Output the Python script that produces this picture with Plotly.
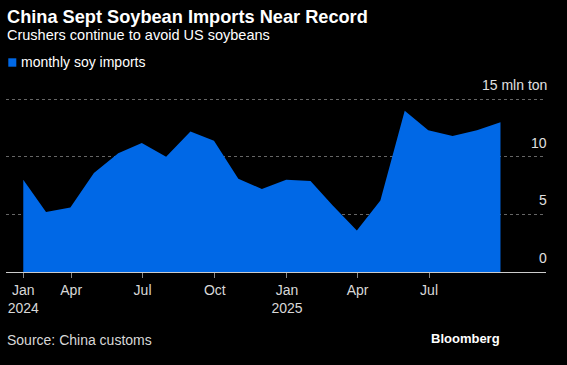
import plotly.graph_objects as go

# Monthly soybean imports (mln ton), dated at month end
months = ["2024-01-31", "2024-02-29", "2024-03-31", "2024-04-30", "2024-05-31", "2024-06-30",
          "2024-07-31", "2024-08-31", "2024-09-30", "2024-10-31", "2024-11-30", "2024-12-31",
          "2025-01-31", "2025-02-28", "2025-03-31", "2025-04-30", "2025-05-31", "2025-06-30",
          "2025-07-31", "2025-08-31", "2025-09-30"]
imports = [8.0, 5.2, 5.6, 8.6, 10.3, 11.2,
           10.0, 12.2, 11.4, 8.1, 7.2, 8.0,
           7.9, 5.8, 3.6, 6.2, 14.0, 12.3,
           11.8, 12.3, 13.0]

tick_vals = ["2024-01-31", "2024-04-01", "2024-07-01", "2024-10-01",
             "2025-01-01", "2025-04-01", "2025-07-01"]
tick_text = ["Jan<br>2024", "Apr", "Jul", "Oct", "Jan<br>2025", "Apr", "Jul"]
y_labels = [0, 5, 10, 15]

BLUE = "#0068E6"
FONT = "Liberation Sans"

fig = go.Figure()
fig.add_trace(go.Scatter(
    x=months, y=imports, mode="lines", fill="tozeroy",
    line=dict(color=BLUE, width=0), fillcolor=BLUE,
    name="monthly soy imports", showlegend=False, hoverinfo="skip",
))

annotations = [
    dict(text="<b>China Sept Soybean Imports Near Record</b>", xref="paper", yref="paper",
         x=0, y=1, xanchor="left", yanchor="middle", showarrow=False,
         font=dict(family=FONT, size=18.2, color="white"), xshift=-1, yshift=81),
    dict(text="Crushers continue to avoid US soybeans", xref="paper", yref="paper",
         x=0, y=1, xanchor="left", yanchor="middle", showarrow=False,
         font=dict(family=FONT, size=14.5, color="white"), xshift=-1, yshift=63),
    dict(text="monthly soy imports", xref="paper", yref="paper",
         x=0, y=1, xanchor="left", yanchor="middle", showarrow=False,
         font=dict(family=FONT, size=14, color="white"), xshift=13, yshift=36),
    dict(text="Source: China customs", xref="paper", yref="paper",
         x=0, y=0, xanchor="left", yanchor="middle", showarrow=False,
         font=dict(family=FONT, size=14, color="#d8d8d8"), xshift=-1, yshift=-68),
    dict(text="<b>Bloomberg</b>", xref="paper", yref="paper",
         x=1, y=0, xanchor="right", yanchor="middle", showarrow=False,
         font=dict(family=FONT, size=13, color="white"), yshift=-66, xshift=-44),
]
for v in y_labels:
    annotations.append(dict(
        text=(f"{v} mln ton" if v == 15 else str(v)), xref="paper", yref="y",
        x=1, y=v, xanchor="right", yanchor="bottom", showarrow=False,
        font=dict(family=FONT, size=14, color="#e0e0e0"), yshift=4, xshift=3,
    ))

shapes = [
    dict(type="rect", xref="paper", yref="paper", xsizemode="pixel", ysizemode="pixel",
         xanchor=0, yanchor=1, x0=2.3, x1=10.3, y0=31.3, y1=39.7,
         fillcolor=BLUE, line=dict(width=0)),
]

fig.update_layout(
    width=567, height=365,
    paper_bgcolor="black", plot_bgcolor="black",
    margin=dict(l=6, r=21, t=98, b=93),
    showlegend=False,
    annotations=annotations,
    shapes=shapes,
    xaxis=dict(
        type="date", range=["2024-01-09", "2025-11-27"],
        tickmode="array", tickvals=tick_vals, ticktext=tick_text,
        ticks="outside", ticklen=5, tickcolor="#888888", tickwidth=1,
        showgrid=False, zeroline=False,
        showline=True, linecolor="#cccccc", linewidth=1,
        tickfont=dict(family=FONT, size=14, color="#d8d8d8"),
        fixedrange=True,
    ),
    yaxis=dict(
        range=[0, 15.1], tickvals=[5, 10, 15], showticklabels=False,
        showgrid=True, gridcolor="#666666", griddash="dot", gridwidth=1,
        zeroline=False, showline=False, fixedrange=True,
    ),
)

fig.write_html("out.html", config={"displayModeBar": False, "staticPlot": True},
               post_script="document.body.style.margin='0';")
